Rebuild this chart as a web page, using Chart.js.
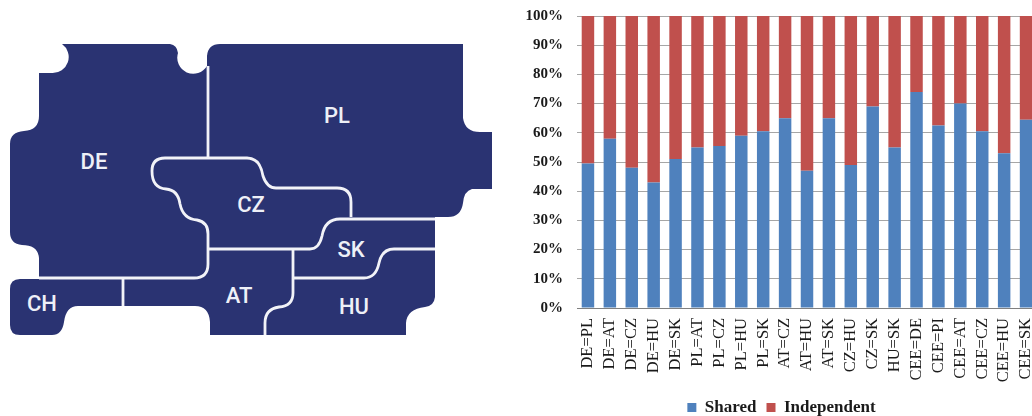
<!DOCTYPE html>
<html>
<head>
<meta charset="utf-8">
<title>Shared and independent variance</title>
<script src="https://cdn.jsdelivr.net/npm/chart.js@4"></script>
<style>
  html, body { margin: 0; padding: 0; width: 1032px; height: 416px; overflow: hidden; background: #fff; }
  #map { position: absolute; left: 0; top: 0; }
  #map text { font-family: Roboto, sans-serif; font-size: 22px; font-weight: 500; fill: #eef0f7; text-anchor: middle; }
  #chart { position: absolute; left: 526px; top: -7px; }
</style>
</head>
<body>
<!-- Schematic region map, left panel -->
<svg id="map" width="500" height="416" viewBox="0 0 500 416">
  <path fill="#2a3372" d="M62 44 H170 Q177 45 178 53 A16 16 0 0 0 207 66 V56 Q208 44 220 44 H463 V118 Q465 132 480 132 H492 V189 H472 Q464 191 463 203 Q461 217 448 217 H435 V297 Q434 306 425 307 Q407 309 406 323 V335 H210 V322 Q209 306 195 306 H78 Q66 306 64 322 Q62 335 52 335 H20 Q10 335 10 325 V289 Q10 279 20 279 H39 V258 Q38 245 22 245 Q10 244 10 232 V144 Q10 132 24 131 Q39 130 39 116 V73 H52 A16 16 0 0 0 62 44 Z"/>
  <g fill="none" stroke="#f2f3f8" stroke-width="2.8" stroke-linecap="butt">
    <path d="M208 66 V158"/>
    <path d="M351 217 V202 Q351 188 337 188 H276 Q267 188 263 176 Q260 158 247 158 H165 Q152 158 152 171 Q152 188 166 189 Q178 190 180 204 Q183 219 197 220 Q208 222 208 234 V264 Q208 278 194 278 H39"/>
    <path d="M123 278 V306"/>
    <path d="M208 249 H310 Q319 249 322 236 Q325 219 340 219 H435"/>
    <path d="M293 249 V293 Q293 306 279 307 Q265 309 265 323 V335"/>
    <path d="M293 278 H364 Q376 278 379 263 Q382 249 394 249 H435"/>
  </g>
  <text x="94" y="169">DE</text>
  <text x="337" y="123">PL</text>
  <text x="251" y="212">CZ</text>
  <text x="351" y="257">SK</text>
  <text x="239" y="303">AT</text>
  <text x="42" y="311">CH</text>
  <text x="354" y="314">HU</text>
</svg>

<canvas id="chart" width="532" height="433"></canvas>

<script>
const categories = ['DE=PL', 'DE=AT', 'DE=CZ', 'DE=HU', 'DE=SK', 'PL=AT', 'PL=CZ', 'PL=HU', 'PL=SK', 'AT=CZ', 'AT=HU',
  'AT=SK', 'CZ=HU', 'CZ=SK', 'HU=SK', 'CEE=DE', 'CEE=PI', 'CEE=AT', 'CEE=CZ', 'CEE=HU', 'CEE=SK'];
const shared = [49.5, 58, 48, 43, 51, 55, 55.5, 59, 60.5, 65, 47, 65, 49, 69, 55, 74, 62.5, 70, 60.5, 53, 64.5];
const independent = [50.5, 42, 52, 57, 49, 45, 44.5, 41, 39.5, 35, 53, 35, 51, 31, 45, 26, 37.5, 30, 39.5, 47, 35.5];

const inkColor = '#1a1a1a';

new Chart(document.getElementById('chart').getContext('2d'), {
  type: 'bar',
  data: {
    labels: categories,
    datasets: [
      { label: 'Shared', data: shared, backgroundColor: '#4f81bd', categoryPercentage: 1, barPercentage: 0.57 },
      { label: 'Independent', data: independent, backgroundColor: '#c0504d', categoryPercentage: 1, barPercentage: 0.57 }
    ]
  },
  options: {
    responsive: false,
    animation: false,
    devicePixelRatio: 1,
    layout: { autoPadding: false, padding: { top: 10, right: 21 } },
    plugins: {
      tooltip: { enabled: false },
      legend: {
        position: 'bottom',
        labels: {
          boxWidth: 9,
          boxHeight: 9,
          padding: 10,
          color: inkColor,
          font: { family: '"Liberation Serif", serif', size: 17, weight: 'bold' }
        }
      }
    },
    scales: {
      x: {
        stacked: true,
        afterFit: (scale) => { scale.height = 81; },
        grid: { display: false },
        border: { display: true, color: '#808080', width: 1 },
        ticks: {
          autoSkip: false,
          minRotation: 90,
          maxRotation: 90,
          padding: 2,
          color: inkColor,
          font: { family: '"Liberation Serif", serif', size: 16.5 }
        }
      },
      y: {
        stacked: true,
        min: 0,
        max: 100,
        afterFit: (scale) => { scale.width = 51; },
        grid: { color: '#a6a6a6', drawTicks: false },
        border: { display: false },
        ticks: {
          stepSize: 10,
          padding: 14,
          color: inkColor,
          font: { family: '"Liberation Serif", serif', size: 15, weight: 'bold' },
          callback: (v) => v + '%'
        }
      }
    }
  }
});
</script>
</body>
</html>
